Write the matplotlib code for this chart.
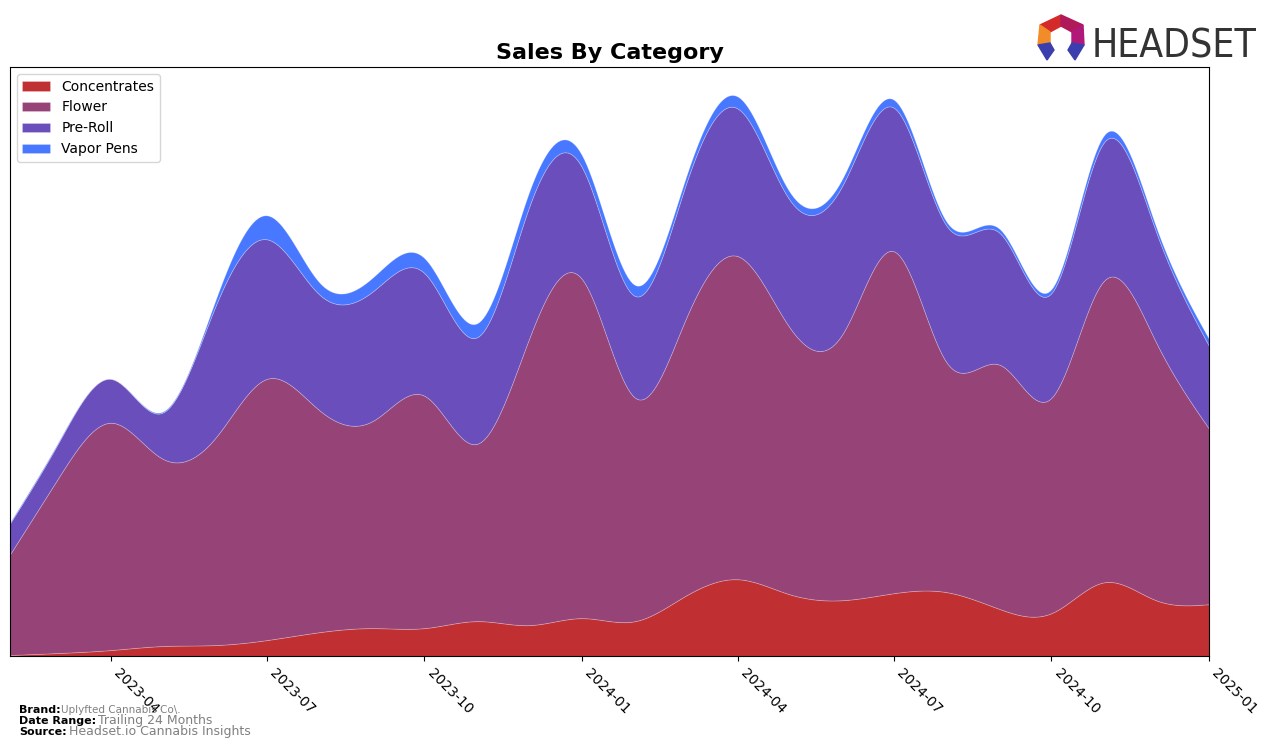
import numpy as np
import pandas as pd
import matplotlib
matplotlib.use("Agg")
import matplotlib.pyplot as plt
from matplotlib.patches import Polygon

# monthly sales (arbitrary units)
months = pd.date_range("2023-02-01", "2025-01-01", freq="MS")
concentrates = [1, 3, 6, 10, 11, 16, 24, 28, 28, 35, 31, 38,
                35, 60, 77, 62, 56, 63, 64, 47, 43, 74, 56, 52]
flower = [101, 175, 228, 188, 208, 262, 222, 208, 233, 178, 287, 340,
          224, 276, 324, 268, 267, 343, 230, 245, 216, 303, 259, 176]
pre_roll = [31, 35, 44, 46, 132, 140, 116, 130, 123, 107, 132, 112,
            102, 134, 148, 128, 149, 144, 137, 132, 105, 139, 111, 83]
vapor_pens = [1, 1, 0, 1, 6, 24, 12, 14, 15, 14, 15, 12,
              11, 7, 12, 8, 7, 8, 4, 4, 4, 7, 5, 7]
labels = ["Concentrates", "Flower", "Pre-Roll", "Vapor Pens"]
colors = ["#C03033", "#964378", "#6A4EBC", "#4878FF"]
tick_labels = ["2023-04", "2023-07", "2023-10", "2024-01",
               "2024-04", "2024-07", "2024-10", "2025-01"]


def spline(x, y, xs):
    # natural cubic spline, only used to draw smooth curves
    x = np.asarray(x, float)
    y = np.asarray(y, float)
    n = len(x)
    h = np.diff(x)
    A = np.zeros((n, n))
    b = np.zeros(n)
    A[0, 0] = A[-1, -1] = 1
    for i in range(1, n - 1):
        A[i, i - 1] = h[i - 1]
        A[i, i] = 2 * (h[i - 1] + h[i])
        A[i, i + 1] = h[i]
        b[i] = 3 * ((y[i + 1] - y[i]) / h[i] - (y[i] - y[i - 1]) / h[i - 1])
    c = np.linalg.solve(A, b)
    idx = np.clip(np.searchsorted(x, xs) - 1, 0, n - 2)
    dx = xs - x[idx]
    bb = (y[idx + 1] - y[idx]) / h[idx] - h[idx] * (2 * c[idx] + c[idx + 1]) / 3
    dd = (c[idx + 1] - c[idx]) / (3 * h[idx])
    return y[idx] + bb * dx + c[idx] * dx**2 + dd * dx**3


xnum = matplotlib.dates.date2num(months)
xs = np.linspace(xnum[0], xnum[-1], 500)
series = [concentrates, flower, pre_roll, vapor_pens]
smooth = [np.clip(spline(xnum, s, xs), 0, None) for s in series]

fig = plt.figure(figsize=(12.76, 7.47), dpi=100)
ax = fig.add_axes([0.0078, 0.1218, 0.9397, 0.7885])
xd = matplotlib.dates.num2date(xs)
ax.stackplot(xd, *smooth, labels=labels, colors=colors,
             edgecolor=(1, 1, 1, 0.25), linewidth=0.6)
ax.set_xlim(months[0], months[-1])
top = np.sum(smooth, axis=0).max()
ax.set_ylim(0, top * 1.05)
ax.set_yticks([])
ticks = pd.to_datetime(tick_labels)
ax.set_xticks(ticks)
ax.set_xticklabels(tick_labels, rotation=-45, ha="left", fontsize=10)
ax.set_title("Sales By Category", fontsize=16, fontweight="bold", pad=6)
ax.legend(loc="upper left", fontsize=10)

# footer
fig.text(0.015, 0.046, "Brand:", fontsize=8, fontweight="bold")
fig.text(0.048, 0.046, "Uplyfted Cannabis Co\\.", fontsize=7.5, color="gray")
fig.text(0.015, 0.031, "Date Range:", fontsize=8, fontweight="bold")
fig.text(0.077, 0.031, "Trailing 24 Months", fontsize=9, color="gray")
fig.text(0.015, 0.016, "Source:", fontsize=8, fontweight="bold")
fig.text(0.054, 0.016, "Headset.io Cannabis Insights", fontsize=9, color="gray")

# logo
fig.text(1092 / 1276, 1 - 57 / 747, "HEADSET", fontsize=28, color="#333333",
         fontstretch="condensed")
logo_parts = [
    ([(1040, 25), (1061, 15), (1061, 26), (1050, 32)], "#D42A2A"),
    ([(1061, 15), (1083, 25), (1072, 32), (1061, 26)], "#B01A5A"),
    ([(1040, 25), (1050, 32), (1050, 43), (1038, 45)], "#F28C28"),
    ([(1083, 25), (1072, 32), (1072, 43), (1084, 45)], "#B0187A"),
    ([(1038, 45), (1050, 43), (1054, 50), (1047, 60)], "#3B3FAE"),
    ([(1084, 45), (1072, 43), (1068, 50), (1075, 60)], "#3B3FAE"),
]
for pts, col in logo_parts:
    fig.patches.append(Polygon([(px / 1276, 1 - py / 747) for px, py in pts],
                               closed=True, color=col, transform=fig.transFigure))

fig.savefig("out.png", dpi=100)
